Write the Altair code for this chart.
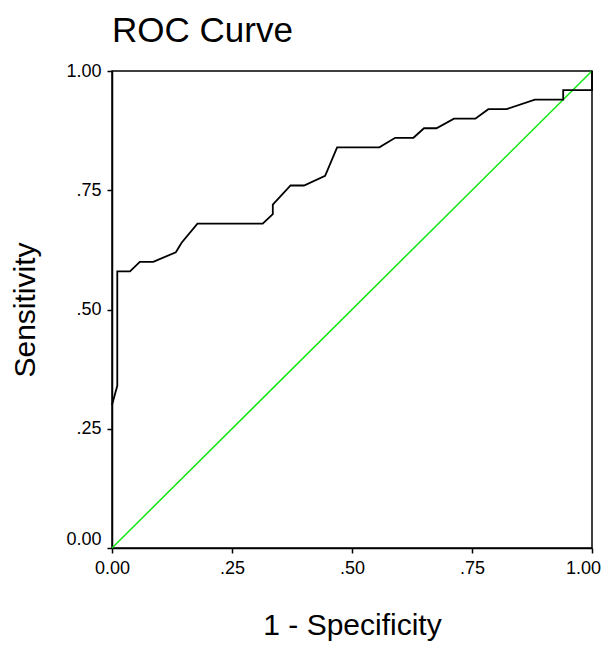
import altair as alt
import pandas as pd

# ROC curve points
fpr = [0.0, 0.011, 0.011, 0.0375, 0.058, 0.086, 0.133, 0.145, 0.178, 0.314,
       0.335, 0.335, 0.372, 0.40, 0.444, 0.469, 0.557, 0.59, 0.628, 0.65,
       0.676, 0.7125, 0.757, 0.784, 0.822, 0.881, 0.940, 0.940, 1.0, 1.0]
tpr = [0.30, 0.34, 0.58, 0.58, 0.60, 0.60, 0.62, 0.64, 0.68, 0.68,
       0.70, 0.72, 0.76, 0.76, 0.78, 0.84, 0.84, 0.86, 0.86, 0.88,
       0.88, 0.90, 0.90, 0.92, 0.92, 0.94, 0.94, 0.96, 0.96, 1.0]

# reference (chance) line
ref_x = [0.0, 1.0]
ref_y = [0.0, 1.0]

tick_values = [0.0, 0.25, 0.5, 0.75, 1.0]
tick_labels = ["0.00", ".25", ".50", ".75", "1.00"]

roc = pd.DataFrame({"x": fpr, "y": tpr, "order": list(range(len(fpr)))})
diag = pd.DataFrame({"x": ref_x, "y": ref_y, "order": [0, 1]})

label_expr = "'" + tick_labels[-1] + "'"
for v, lab in reversed(list(zip(tick_values[:-1], tick_labels[:-1]))):
    label_expr = f"abs(datum.value - {v}) < 1e-6 ? '{lab}' : ({label_expr})"

FONT = "Liberation Sans"

x_axis = alt.Axis(
    values=tick_values, labelExpr=label_expr, grid=False,
    title="1 - Specificity", titleFontSize=30, titleFontWeight="normal",
    titleFont=FONT, titlePadding=33, titleColor="black",
    labelFont=FONT, labelFontSize=18, labelColor="black", labelPadding=6,
    labelFlush=False, labelOverlap=False,
    labelOffset={"condition": {"test": "datum.value == 1", "value": -9}, "value": 0},
    domainColor="black", domainWidth=1.5, tickColor="black", tickWidth=1.5, tickSize=5,
)
y_axis = alt.Axis(
    values=tick_values, labelExpr=label_expr, grid=False,
    title="Sensitivity", titleFontSize=30, titleFontWeight="normal",
    titleFont=FONT, titlePadding=25, titleColor="black",
    labelFont=FONT, labelFontSize=18, labelColor="black", labelPadding=6,
    labelFlush=False, labelOverlap=False,
    labelBaseline={"condition": {"test": "datum.value == 0", "value": "bottom"}, "value": "middle"},
    domainColor="black", domainWidth=1.5, tickColor="black", tickWidth=1.5, tickSize=5,
)

xs = alt.Scale(domain=[0, 1], nice=False, zero=False)
ys = alt.Scale(domain=[0, 1], nice=False, zero=False)

diag_line = alt.Chart(diag).mark_line(color="#11e611", strokeWidth=1.5).encode(
    x=alt.X("x:Q", scale=xs, axis=x_axis),
    y=alt.Y("y:Q", scale=ys, axis=y_axis),
    order="order:Q",
)
roc_line = alt.Chart(roc).mark_line(color="black", strokeWidth=1.8, interpolate="linear").encode(
    x=alt.X("x:Q", scale=xs),
    y=alt.Y("y:Q", scale=ys),
    order="order:Q",
)

chart = (
    alt.layer(diag_line, roc_line)
    .properties(
        width=480, height=477,
        title=alt.TitleParams("ROC Curve", anchor="start", frame="group", font=FONT,
                              fontSize=35, fontWeight="normal", color="black", offset=13),
        autosize=alt.AutoSizeParams(type="none"),
        padding={"left": 104, "top": 63, "right": 9, "bottom": 94},
        background="white",
    )
    .configure_view(stroke="black", strokeWidth=1.5)
)

chart.save("out.html", embed_options={"renderer": "svg", "actions": False})
